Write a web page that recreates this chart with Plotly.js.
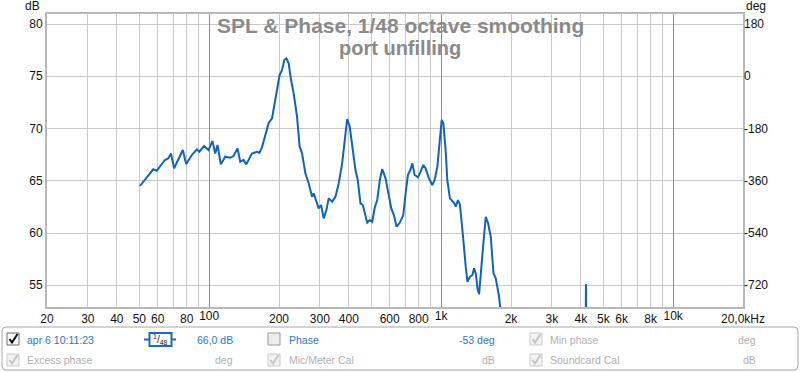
<!DOCTYPE html>
<html><head><meta charset="utf-8">
<script src="https://cdn.plot.ly/plotly-3.0.1.min.js"></script>
<style>html,body{margin:0;padding:0;background:#fff;}#chart{width:800px;height:372px;}</style>
</head><body><div id="chart"></div>
<script>
// ---- data ----
const freqHz = [50.3,52.9,57.4,59.4,64.5,66.7,68.5,70.6,73.7,77.0,79.6,84.2,88.5,90.8,95.1,99.3,103.3,106.2,108.6,112.3,117.2,123.2,127.3,132.5,136.1,140.6,144.5,152.9,160.7,164.9,168.9,174.6,180.4,186.6,192.8,196.1,201.2,206.1,210.9,215.1,220.1,225.4,231.3,239.2,245.5,251.4,259.8,268.5,277.7,282.2,289.9,296.5,303.7,311.6,320.1,327.5,338.8,350.2,361.9,374.3,384.2,393.4,403.6,413.4,427.2,437,449,459.3,467.2,479.9,492.5,504.5,517.6,530.2,544.1,557.2,575.9,589.2,609.5,625.5,642.5,663.8,686.7,702.6,719,738.6,751.1,768.4,794.1,815.6,837.9,857,885.7,916.2,937.3,963,985.2,1005,1022,1045.7,1063.5,1091,1136,1155,1182,1205,1235,1255,1276,1298,1332,1364,1386,1410,1434,1457,1482,1516,1557,1593,1636,1681,1719,1749,1777,1795,1830,null,4190,4209,4225];
const splDb = [64.5,65.07,66.1,65.96,66.99,67.15,67.6,66.2,67.05,67.94,66.6,67.46,68.0,67.78,68.33,67.94,68.8,67.6,68.42,66.57,67.3,67.2,67.37,68.1,66.82,67.0,66.57,67.6,67.78,67.68,68.2,69.3,70.5,70.97,72.73,73.37,75.12,75.6,76.56,76.72,76.24,74.64,73.37,71.13,68.26,67.63,65.71,64.76,63.47,63.8,63.0,62.36,62.68,61.4,62.2,63.32,63.0,63.47,64.76,66.67,68.9,70.9,70.17,68.6,66.03,65.07,62.84,62.68,62.04,61.0,61.24,61.08,62.46,63.16,65.07,66.12,65.23,64.11,62.36,61.72,60.6,61.0,61.72,63.8,65.55,66.1,66.67,65.55,65.33,65.87,66.51,66.19,65.23,64.59,65.07,66.35,69.22,70.81,70.5,67.9,65.0,63.32,62.9,62.52,63.16,62.7,60.29,58.37,56.78,55.34,55.82,55.98,56.62,56.14,54.71,54.13,55.82,58.69,61.56,60.93,59.65,56.14,55.66,54.86,53.9,52.95,50,null,48,55.1,48];
const phaseHz = [];
const phaseDeg = [];

const xLabelVals = [20,30,40,50,60,80,200,300,400,600,800,2000,3000,4000,5000,6000,8000,20000];
const xLabelText = ['20','30','40','50','60','80','200','300','400','600','800','2k','3k','4k','5k','6k','8k','20,0kHz'];
const xPlainGridVals = [70,90,500,700,900,7000,9000];
const xDecadeVals = [100,1000,10000];
const xDecadeText = ['100','1k','10k'];
const yTickVals = [55,60,65,70,75,80];
const y2TickVals = [180,0,-180,-360,-540,-720];
const y2TickText = ['180','0','-180','-360','-540','-720'];

const titleLine1 = 'SPL &amp; Phase, 1/48 octave smoothing';
const titleLine2 = 'port unfilling';

// ---- geometry helpers (plot area in pixels) ----
const L = 47, R = 743, T = 14, B = 307;
const px = x => (x - L) / (R - L);
const py = y => (B - y) / (B - T);
const FONT = 'Liberation Sans, Arial, sans-serif';

const shapes = [];
const annotations = [];

// title (two centred lines)
annotations.push({text:titleLine1, xref:'paper', yref:'paper', x:px(400), y:py(25.5), xanchor:'center', yanchor:'middle', showarrow:false, font:{family:FONT, size:21, color:'#8a8a8a', weight:'bold'}});
annotations.push({text:titleLine2, xref:'paper', yref:'paper', x:px(400), y:py(48.5), xanchor:'center', yanchor:'middle', showarrow:false, font:{family:FONT, size:20, color:'#8a8a8a', weight:'bold'}});

// legend panel box (rounded)
(function(){
  const x0=2,x1=798,y0=327,y1=370,r=4;
  const d = `M ${px(x0+r)} ${py(y0)} L ${px(x1-r)} ${py(y0)} Q ${px(x1)} ${py(y0)} ${px(x1)} ${py(y0+r)} L ${px(x1)} ${py(y1-r)} Q ${px(x1)} ${py(y1)} ${px(x1-r)} ${py(y1)} L ${px(x0+r)} ${py(y1)} Q ${px(x0)} ${py(y1)} ${px(x0)} ${py(y1-r)} L ${px(x0)} ${py(y0+r)} Q ${px(x0)} ${py(y0)} ${px(x0+r)} ${py(y0)} Z`;
  shapes.push({type:'path', xref:'paper', yref:'paper', path:d, line:{color:'#a6a6a6', width:1}, fillcolor:'rgba(0,0,0,0)', layer:'above'});
})();

function checkbox(x, y, state){
  const s = 12;
  const border = state==='on' ? '#6e6e6e' : (state==='off' ? '#9a9a9a' : '#c9c9c9');
  const fill = state==='on' ? '#fafafa' : (state==='off' ? '#ececec' : '#f2f2f2');
  shapes.push({type:'rect', xref:'paper', yref:'paper', x0:px(x), x1:px(x+s), y0:py(y), y1:py(y+s), line:{color:border,width:1}, fillcolor:fill, layer:'above'});
  if(state!=='off'){
    const c = state==='on' ? '#111111' : '#c4c4c4';
    const d = `M ${px(x+2.5)} ${py(y+6)} L ${px(x+5)} ${py(y+9.5)} L ${px(x+10.5)} ${py(y+1)}`;
    shapes.push({type:'path', xref:'paper', yref:'paper', path:d, line:{color:c,width:2}, layer:'above'});
  }
}
function label(text, x, y, anchor, color){
  annotations.push({text:text, xref:'paper', yref:'paper', x:px(x), y:py(y), xanchor:anchor, yanchor:'middle', showarrow:false, font:{family:FONT, size:10.5, color:color}});
}
const BLUE='#2f74cf', GREY='#b0b0b0';
checkbox(7,333,'on');   label('apr 6 10:11:23',25,339.5,'left',BLUE);
label('66,0 dB',235,339.5,'right',BLUE);
checkbox(268,333,'off'); label('Phase',287,339.5,'left',BLUE);
label('-53 deg',497,339.5,'right',BLUE);
checkbox(530,333,'dis'); label('Min phase',548,339.5,'left',GREY);
label('deg',758,339.5,'right',GREY);
checkbox(7,354,'dis');   label('Excess phase',25,360,'left',GREY);
label('deg',235,360,'right',GREY);
checkbox(268,354,'dis'); label('Mic/Meter Cal',287,360,'left',GREY);
label('dB',497,360,'right',GREY);
checkbox(530,354,'dis'); label('Soundcard Cal',548,360,'left',GREY);
label('dB',758,360,'right',GREY);

// smoothing icon
shapes.push({type:'line', xref:'paper', yref:'paper', x0:px(144), x1:px(176), y0:py(339.5), y1:py(339.5), line:{color:'#1a66c8',width:2}, layer:'above'});
shapes.push({type:'rect', xref:'paper', yref:'paper', x0:px(149.5), x1:px(171.5), y0:py(333), y1:py(346), line:{color:'#1a66c8',width:2}, fillcolor:'#ffffff', layer:'above'});
annotations.push({text:'<sup>1</sup>/<sub>48</sub>', xref:'paper', yref:'paper', x:px(160.5), y:py(339.5), xanchor:'center', yanchor:'middle', showarrow:false, font:{family:FONT, size:10, color:'#222'}});

// axis unit labels
annotations.push({text:'dB', xref:'paper', yref:'paper', x:px(42), y:py(6), xanchor:'right', yanchor:'middle', showarrow:false, font:{family:FONT,size:12,color:'#111'}});
annotations.push({text:'deg', xref:'paper', yref:'paper', x:px(744), y:py(6), xanchor:'left', yanchor:'middle', showarrow:false, font:{family:FONT,size:12,color:'#111'}});

const traces = [
  {x:freqHz, y:splDb, type:'scatter', mode:'lines', line:{color:'#0f62c2', width:2}, connectgaps:false, xaxis:'x', yaxis:'y', hoverinfo:'skip'},
  {x:phaseHz, y:phaseDeg, type:'scatter', mode:'lines', xaxis:'x2', yaxis:'y2', hoverinfo:'skip', showlegend:false},
  {x:[], y:[], type:'scatter', mode:'lines', xaxis:'x3', yaxis:'y', hoverinfo:'skip', showlegend:false}
];

const gridLight = '#c9c9c9';
const xr = [Math.log10(20), Math.log10(20000)];
const layout = {
  width:800, height:372,
  margin:{l:L, r:800-R, t:T, b:372-B, pad:0},
  paper_bgcolor:'#ffffff', plot_bgcolor:'#ffffff',
  showlegend:false,
  font:{family:FONT, size:12, color:'#111'},
  xaxis:{type:'log', range:xr, tickmode:'array', tickvals:xLabelVals, ticktext:xLabelText,
         showgrid:true, gridcolor:gridLight, gridwidth:1, ticks:'', showline:true, linecolor:'#b8b8b8', linewidth:2, mirror:true,
         tickfont:{family:FONT,size:12,color:'#111'}, zeroline:false},
  xaxis2:{type:'log', overlaying:'x', anchor:'y', side:'bottom', range:xr, tickmode:'array', tickvals:xDecadeVals, ticktext:xDecadeText,
         showgrid:true, gridcolor:'#8c8c8c', gridwidth:1, ticks:'', showline:false, tickfont:{family:FONT,size:12,color:'#111'}, zeroline:false},
  xaxis3:{type:'log', overlaying:'x', anchor:'y', side:'bottom', range:xr, tickmode:'array', tickvals:xPlainGridVals,
         showticklabels:false, showgrid:true, gridcolor:gridLight, gridwidth:1, ticks:'', showline:false, zeroline:false},
  yaxis:{range:[52.92, 80.96], tickmode:'array', tickvals:yTickVals, showgrid:true, gridcolor:gridLight, gridwidth:1, ticks:'',
         showline:true, linecolor:'#b8b8b8', linewidth:2, mirror:true, zeroline:false, tickfont:{family:FONT,size:12,color:'#111'}},
  yaxis2:{overlaying:'y', side:'right', anchor:'x', range:[-794.9, 214.6], tickmode:'array', tickvals:y2TickVals, ticktext:y2TickText,
         showgrid:false, zeroline:false, ticks:'', showline:false, tickfont:{family:FONT,size:12,color:'#111'}},
  shapes:shapes,
  annotations:annotations
};

Plotly.newPlot('chart', traces, layout, {staticPlot:true, displayModeBar:false});
</script>
</body></html>
